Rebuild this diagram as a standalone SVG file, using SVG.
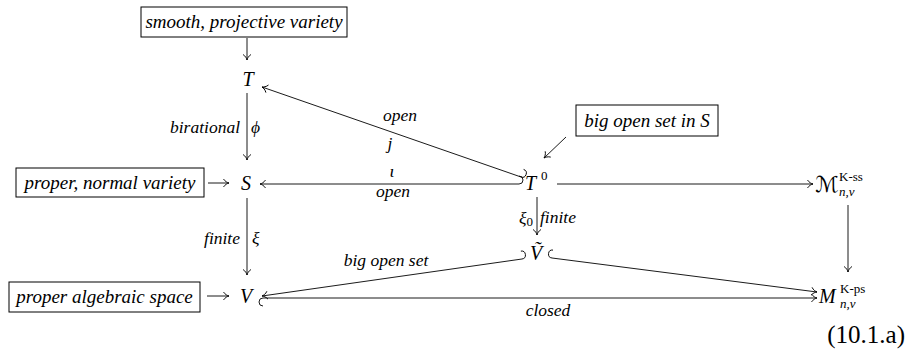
<svg xmlns="http://www.w3.org/2000/svg" width="910" height="352" viewBox="0 0 910 352">
<defs>
<marker id="tip" markerUnits="userSpaceOnUse" markerWidth="12" markerHeight="12" refX="0" refY="0" orient="auto" overflow="visible">
<path d="M-5.5,-4 C-4,-1.5 -1.5,-0.4 0,0 C-1.5,0.4 -4,1.5 -5.5,4" fill="none" stroke="#000" stroke-width="0.9"/>
</marker>
<marker id="hook" markerUnits="userSpaceOnUse" markerWidth="12" markerHeight="12" refX="0" refY="0" orient="auto" overflow="visible">
<path d="M0,0 A4,4 0 0 0 0,8" fill="none" stroke="#000" stroke-width="0.9"/>
</marker>
<marker id="hookL" markerUnits="userSpaceOnUse" markerWidth="12" markerHeight="12" refX="0" refY="0" orient="auto" overflow="visible">
<path d="M0,0 A4,4 0 0 1 0,-8" fill="none" stroke="#000" stroke-width="0.9"/>
</marker>
</defs>

<g id="connectors" fill="none" stroke="#000" stroke-width="0.9" marker-end="url(#tip)">
<path d="M247,38 L247,60"/>
<path d="M247,93 L247,160"/>
<path d="M247,198 L247,275"/>
<path marker-start="url(#hook)" d="M521,177 L262,87"/>
<path marker-start="url(#hook)" d="M519,184 L260,184"/>
<path d="M557,184 L813,184"/>
<path d="M537,197 L537,235"/>
<path marker-start="url(#hook)" d="M522,259 L262,296"/>
<path marker-start="url(#hookL)" d="M552,258 L817,292"/>
<path marker-start="url(#hook)" d="M263,298 L817,298"/>
<path d="M848,205 L848,272"/>
<path d="M566,137 L544,158"/>
<path d="M208,183 L229,183"/>
<path d="M207,296 L229,296"/>
</g>

<g id="labels" font-family="Liberation Serif" font-style="italic" font-size="17.5">
<text x="240" y="133" text-anchor="end">birational</text>
<text x="251" y="133">ϕ</text>
<text x="240" y="244" text-anchor="end">finite</text>
<text x="252" y="244">ξ</text>
<text x="533" y="224" text-anchor="end">ξ<tspan font-style="normal" font-size="13" dy="2">0</tspan></text>
<text x="540" y="223">finite</text>
<text x="400" y="121" text-anchor="middle">open</text>
<text x="390" y="149" text-anchor="middle">j</text>
<text x="392" y="177" text-anchor="middle">ι</text>
<text x="393" y="197" text-anchor="middle">open</text>
<text x="386" y="266" text-anchor="middle">big open set</text>
<text x="548" y="316" text-anchor="middle">closed</text>
</g>

<g id="box-smooth">
<rect x="141" y="7" width="206" height="30" fill="#fff" stroke="#000"/>
<text font-family="Liberation Serif" font-style="italic" font-size="19" x="244" y="28" text-anchor="middle">smooth, projective variety</text>
</g>
<g id="box-bigopen">
<rect x="576" y="105" width="142" height="31" fill="#fff" stroke="#000"/>
<text font-family="Liberation Serif" font-style="italic" font-size="19" x="647" y="127" text-anchor="middle">big open set in S</text>
</g>
<g id="box-normal">
<rect x="16" y="168" width="188" height="29" fill="#fff" stroke="#000"/>
<text font-family="Liberation Serif" font-style="italic" font-size="19" x="110" y="189" text-anchor="middle">proper, normal variety</text>
</g>
<g id="box-algebraic">
<rect x="9" y="282" width="191" height="30" fill="#fff" stroke="#000"/>
<text font-family="Liberation Serif" font-style="italic" font-size="19" x="104.5" y="303" text-anchor="middle">proper algebraic space</text>
</g>

<g id="node-T"><text font-family="Liberation Serif" font-style="italic" font-size="20" x="248" y="86" text-anchor="middle">T</text></g>
<g id="node-S"><text font-family="Liberation Serif" font-style="italic" font-size="20" x="246" y="190" text-anchor="middle">S</text></g>
<g id="node-V"><text font-family="Liberation Serif" font-style="italic" font-size="20" x="246" y="303" text-anchor="middle">V</text></g>
<g id="node-T0"><text font-family="Liberation Serif" font-style="italic" font-size="20" x="525" y="190">T</text><text font-family="Liberation Serif" font-size="13" x="541" y="180">0</text></g>
<g id="node-Vt"><text font-family="Liberation Serif" font-style="italic" font-size="20" x="530" y="260">Ṽ</text></g>
<g id="node-Mss"><text font-family="DejaVu Sans" font-size="22" x="815" y="192">ℳ</text><text font-family="Liberation Serif" font-size="13" x="839" y="181">K-ss</text><text font-family="Liberation Serif" font-style="italic" font-size="13" x="839" y="196">n,v</text></g>
<g id="node-Mps"><text font-family="Liberation Serif" font-style="italic" font-size="20" x="819" y="303">M</text><text font-family="Liberation Serif" font-size="13" x="840" y="293">K-ps</text><text font-family="Liberation Serif" font-style="italic" font-size="13" x="840" y="308">n,v</text></g>
<g id="eqno"><text font-family="Liberation Serif" font-size="25" x="905" y="343" text-anchor="end">(10.1.a)</text></g>
</svg>
